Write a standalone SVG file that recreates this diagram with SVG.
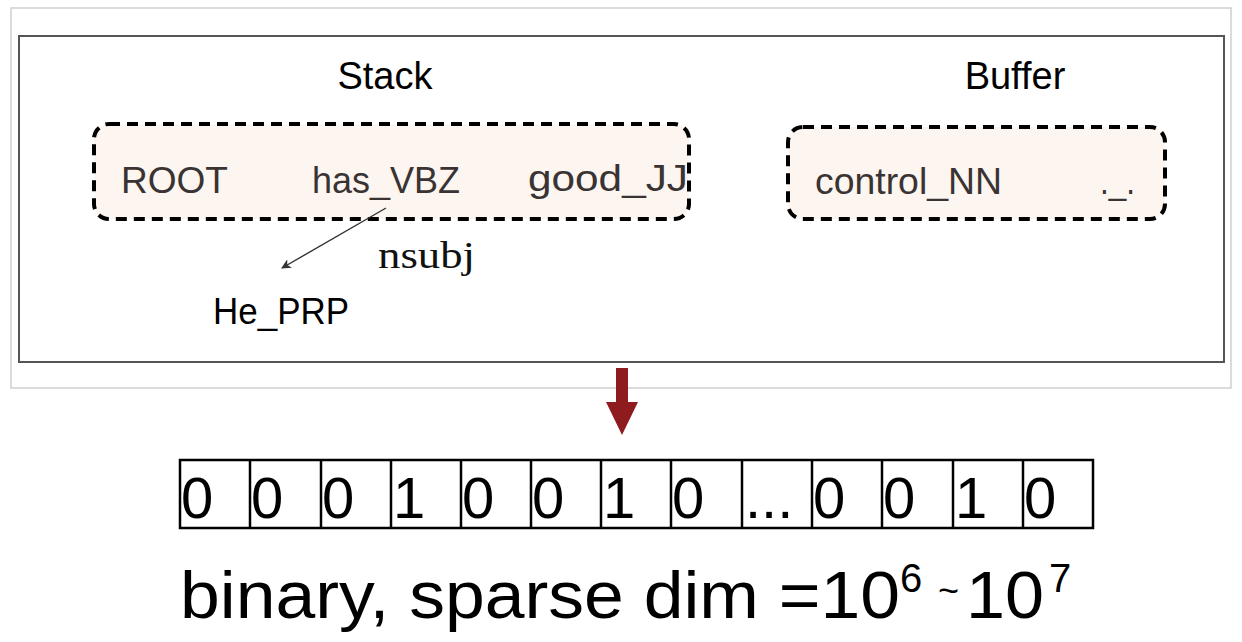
<svg xmlns="http://www.w3.org/2000/svg" width="1242" height="642" viewBox="0 0 1242 642">
<style>
.lbl{font-family:"Liberation Sans",Arial,sans-serif;font-size:38px;fill:#000}
.tok{font-family:"Liberation Sans",Arial,sans-serif;font-size:37px;fill:#3a3333}
.rel{font-family:"Liberation Serif","Times New Roman",serif;font-size:38px;fill:#111}
.box{fill:#fdf5ef;stroke:#000;stroke-width:4;stroke-dasharray:11 7}
.dig{font-family:"Liberation Sans",Arial,sans-serif;font-size:58px;fill:#000}
.cell{fill:#fff;stroke:#000;stroke-width:2.5}
.cap{font-family:"Liberation Sans",Arial,sans-serif;font-size:67px;fill:#000}
</style>
<defs>
<marker id="ah" viewBox="0 0 10 10" refX="9" refY="5" markerWidth="10" markerHeight="10" markerUnits="userSpaceOnUse" orient="auto">
<path d="M0,0 L10,5 L0,10 L3,5 Z" fill="#333"/>
</marker>
</defs>
<rect width="1242" height="642" fill="#fff"/>
<rect id="outer-frame" x="11" y="8" width="1220" height="380" fill="#fff" stroke="#cfcfcf" stroke-width="1.5"/>
<rect id="inner-frame" x="19" y="36" width="1205" height="326" fill="#fff" stroke="#555" stroke-width="2"/>

<g id="stack">
<text class="lbl" x="385" y="89" text-anchor="middle">Stack</text>
<rect class="box" x="94" y="124" width="595" height="95" rx="15"/>
<text class="tok" x="121" y="193" textLength="107" lengthAdjust="spacingAndGlyphs">ROOT</text>
<text class="tok" x="312" y="193" textLength="148" lengthAdjust="spacingAndGlyphs">has_VBZ</text>
<text class="tok" x="528" y="191" textLength="160" lengthAdjust="spacingAndGlyphs">good_JJ</text>
</g>

<g id="buffer">
<text class="lbl" x="1015" y="89" text-anchor="middle">Buffer</text>
<rect class="box" x="788" y="127" width="377" height="92" rx="15"/>
<text class="tok" x="815" y="194" textLength="187" lengthAdjust="spacingAndGlyphs">control_NN</text>
<text class="tok" x="1100" y="194" textLength="35" lengthAdjust="spacingAndGlyphs">._.</text>
</g>

<g id="he-prp">
<text class="tok" x="213" y="324" textLength="136" lengthAdjust="spacingAndGlyphs" style="fill:#000">He_PRP</text>
</g>

<g id="connectors">
<line x1="386" y1="208" x2="282" y2="268" stroke="#333" stroke-width="1.4" marker-end="url(#ah)"/>
<text class="rel" x="378" y="268" textLength="97" lengthAdjust="spacingAndGlyphs">nsubj</text>
<path id="red-arrow" d="M616,368 L628,368 L628,402 L638,402 L622,435 L606,402 L616,402 Z" fill="#8e1b1e"/>
</g>

<g id="vector">
<rect class="cell" x="180" y="460" width="913" height="68"/>
<g stroke="#000" stroke-width="2.5">
<line x1="250" y1="460" x2="250" y2="528"/>
<line x1="321" y1="460" x2="321" y2="528"/>
<line x1="391" y1="460" x2="391" y2="528"/>
<line x1="461" y1="460" x2="461" y2="528"/>
<line x1="531" y1="460" x2="531" y2="528"/>
<line x1="601" y1="460" x2="601" y2="528"/>
<line x1="671" y1="460" x2="671" y2="528"/>
<line x1="742" y1="460" x2="742" y2="528"/>
<line x1="812" y1="460" x2="812" y2="528"/>
<line x1="882" y1="460" x2="882" y2="528"/>
<line x1="953" y1="460" x2="953" y2="528"/>
<line x1="1023" y1="460" x2="1023" y2="528"/>
</g>
<text class="dig" x="181" y="518">0</text>
<text class="dig" x="251" y="518">0</text>
<text class="dig" x="322" y="518">0</text>
<text class="dig" x="393" y="518">1</text>
<text class="dig" x="462" y="518">0</text>
<text class="dig" x="532" y="518">0</text>
<text class="dig" x="603" y="518">1</text>
<text class="dig" x="672" y="518">0</text>
<text class="dig" x="745" y="518">...</text>
<text class="dig" x="813" y="518">0</text>
<text class="dig" x="883" y="518">0</text>
<text class="dig" x="955" y="518">1</text>
<text class="dig" x="1024" y="518">0</text>
</g>

<g id="caption">
<text class="cap" x="180" y="618" textLength="720" lengthAdjust="spacingAndGlyphs">binary, sparse dim =10</text>
<text class="cap" x="900" y="592" style="font-size:40px">6</text>
<text class="cap" x="938" y="603" style="font-size:36px">~</text>
<text class="cap" x="966" y="618" textLength="78" lengthAdjust="spacingAndGlyphs">10</text>
<text class="cap" x="1049" y="592" style="font-size:40px">7</text>
</g>
</svg>
